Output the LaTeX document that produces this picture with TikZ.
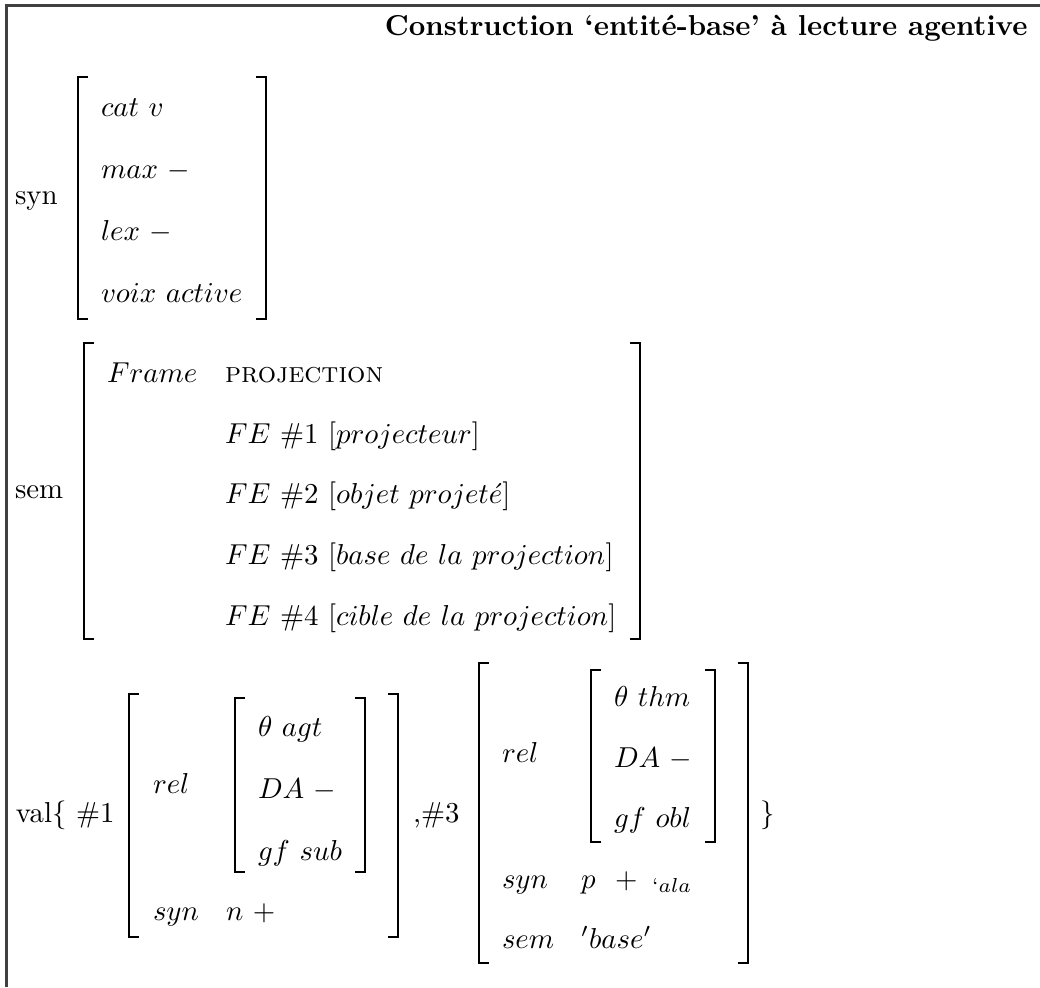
\documentclass[tikz,border=0pt]{standalone}
\tikzset{
  lbl/.style={anchor=base west, inner sep=0pt, outer sep=0pt},
  brk/.style={line width=0.9pt, line join=miter, line cap=rect},
  frm/.style={line width=0.8pt, black!75}
}
\newcommand\mylbr[3]{\draw[brk] (#1+9,#2) -- (#1,#2) -- (#1,#3) -- (#1+9,#3);}
\newcommand\myrbr[3]{\draw[brk] (#1-9,#2) -- (#1,#2) -- (#1,#3) -- (#1-9,#3);}
\begin{document}
\begin{tikzpicture}[x=0.347pt, y=-0.347pt]
\useasboundingbox (0,0) rectangle (1040,987);
% frame
\draw[frm] (6.5,987) -- (6.5,5.5) -- (1040,5.5);
% title
\node[anchor=base east, inner sep=0pt] (title) at (1028,35) {\bfseries Construction ‘entité-base’ à lecture agentive};

% ---- syn block
\node[lbl] (synlab) at (15,204) {syn};
\mylbr{78}{77}{319}
\myrbr{266}{77}{319}
\node[lbl] (cat) at (101,116) {$cat\ v$};
\node[lbl] (max) at (101,178) {$max\ -$};
\node[lbl] (lex) at (101,240) {$lex\ -$};
\node[lbl] (voix) at (101,302) {$voix\ active$};

% ---- sem block
\node[lbl] (semlab) at (15,498) {sem};
\mylbr{84}{343}{639}
\myrbr{640}{343}{639}
\node[lbl] (frame) at (107,382) {$Frame$};
\node[lbl] (proj) at (225,382) {\textsc{projection}};
\node[lbl] (fe1) at (225,443) {$FE$ \#1 [$projecteur$]};
\node[lbl] (fe2) at (225,503) {$FE$ \#2 [$objet\ projet\acute{e}$]};
\node[lbl] (fe3) at (225,564) {$FE$ \#3 [$base\ de\ la\ projection$]};
\node[lbl] (fe4) at (225,625) {$FE$ \#4 [$cible\ de\ la\ projection$]};

% ---- val block
\node[lbl] (vallab) at (16,822) {val$\{$ \#1};
\mylbr{129}{694}{937}
\myrbr{398}{694}{937}
\node[lbl] (rel1) at (153,793) {$rel$};
\mylbr{235}{698}{872}
\myrbr{365}{698}{872}
\node[lbl] (agt) at (258,736) {$\theta\ agt$};
\node[lbl] (da1) at (258,798) {$DA\ -$};
\node[lbl] (gf1) at (258,860) {$gf\ sub$};
\node[lbl] (syn1) at (153,920) {$syn$};
\node[lbl] (n1) at (226,920) {$n\ +$};

\node[lbl] (comma) at (413,822) {,\#3};
\mylbr{479}{663}{963}
\myrbr{748}{663}{963}
\node[lbl] (rel3) at (502,762) {$rel$};
\mylbr{591}{670}{842}
\myrbr{715}{670}{842}
\node[lbl] (thm) at (614,706) {$\theta\ thm$};
\node[lbl] (da3) at (614,767) {$DA\ -$};
\node[lbl] (gf3) at (614,827) {$gf\ obl$};
\node[lbl] (syn3) at (502,888) {$syn$};
\node[lbl] (p3) at (581,888) {$p$};
\node[lbl] (plus3) at (615,888) {$+$};
\node[lbl] (ala) at (652,888) {$_{`ala}$};
\node[lbl] (sem3) at (502,948) {$sem$};
\node[lbl] (base3) at (581,948) {$'base'$};
\node[lbl] (close) at (760,822) {$\}$};
\end{tikzpicture}
\end{document}
